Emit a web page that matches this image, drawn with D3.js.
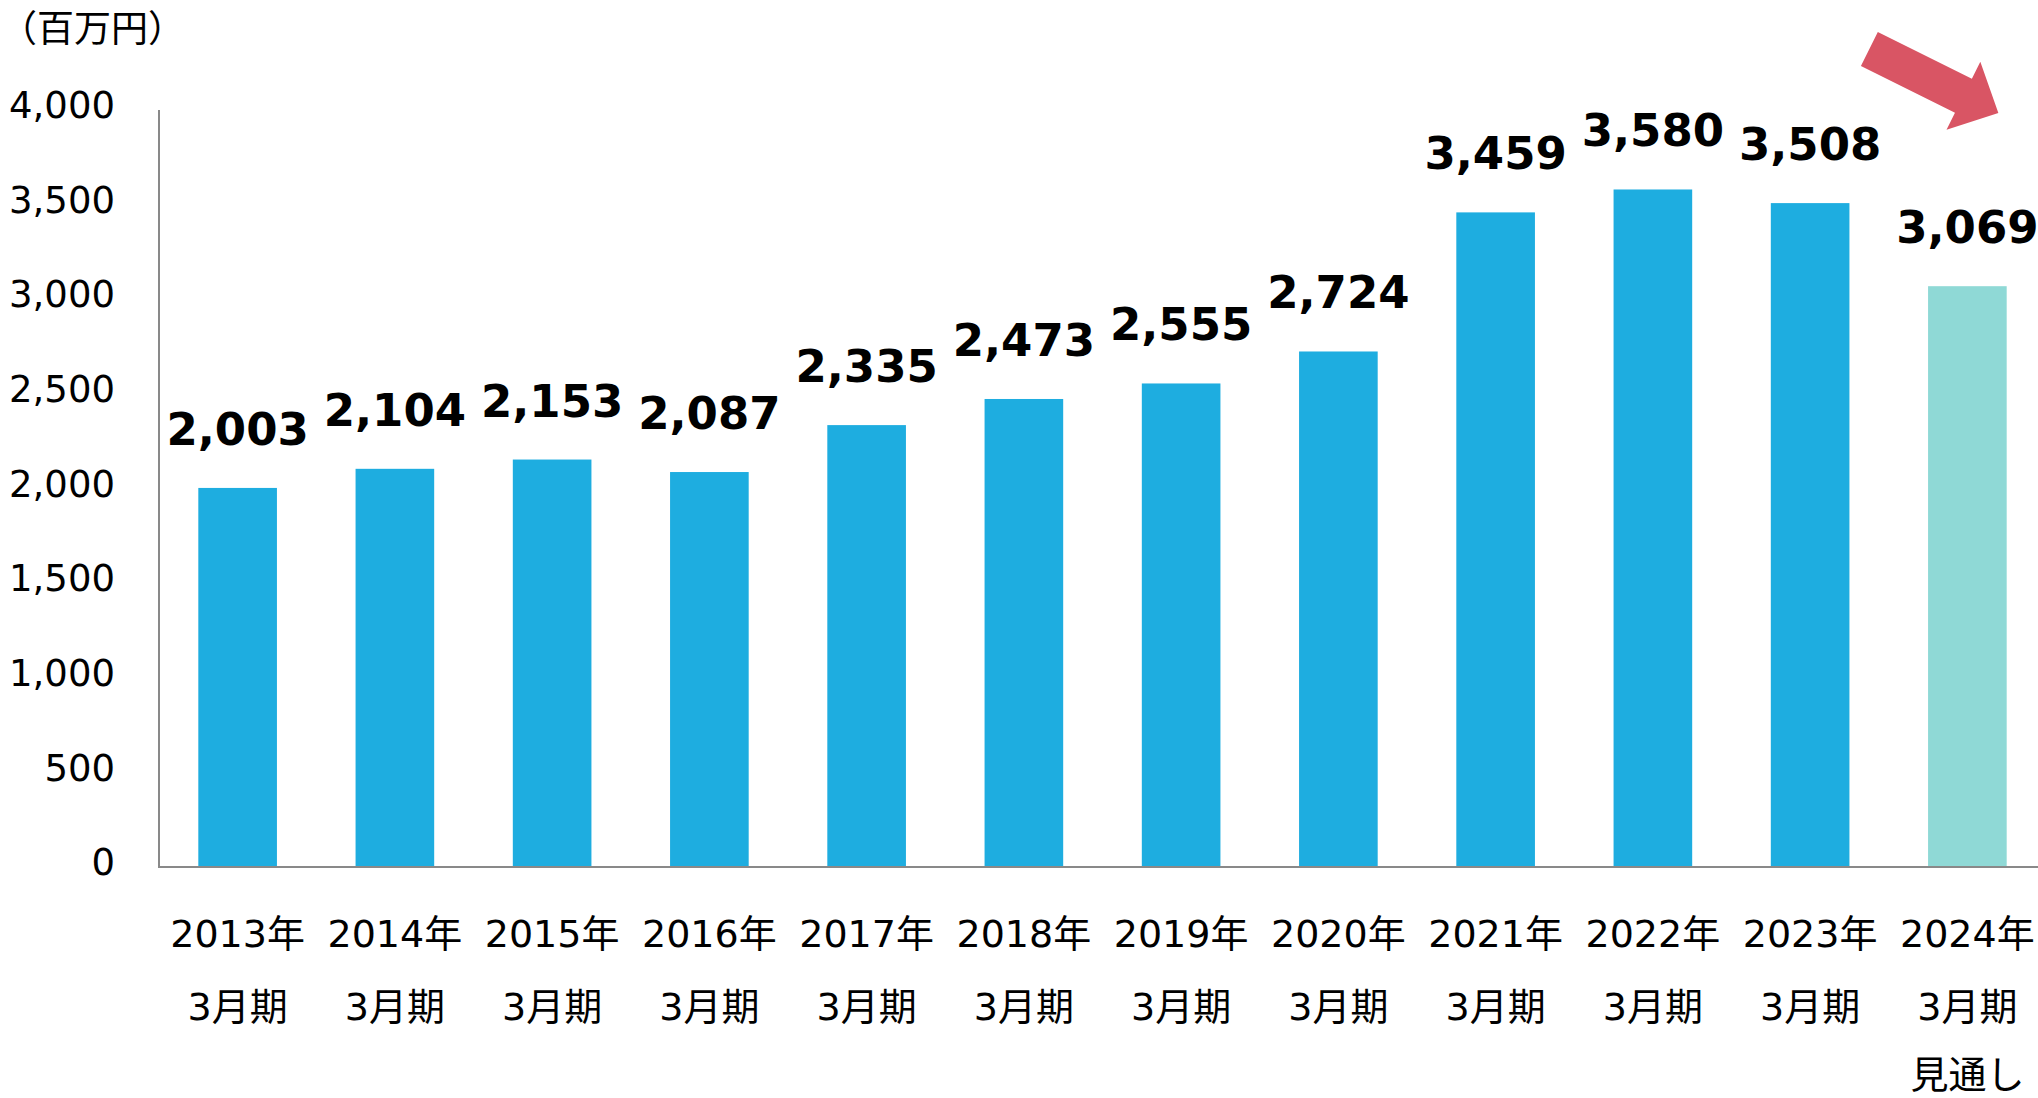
<!DOCTYPE html>
<html>
<head>
<meta charset="utf-8">
<script src="https://cdn.jsdelivr.net/npm/d3@7"></script>
<style>
  html, body { margin: 0; padding: 0; background: #fff; }
  svg { display: block; }
  text { font-family: "DejaVu Sans", "Noto Sans CJK JP", sans-serif; fill: #000; }
</style>
</head>
<body>
<div id="chart"></div>
<script>
// 売上高の推移（百万円）
const years = ['2013年', '2014年', '2015年', '2016年', '2017年', '2018年',
               '2019年', '2020年', '2021年', '2022年', '2023年', '2024年'];
const periodLabel = '3月期';
const forecastNote = '見通し';
const sales = [2003, 2104, 2153, 2087, 2335, 2473, 2555, 2724, 3459, 3580, 3508, 3069];
const isForecast = [false, false, false, false, false, false, false, false, false, false, false, true];
const yTicks = [0, 500, 1000, 1500, 2000, 2500, 3000, 3500, 4000];
const unitLabel = '（百万円）';

const W = 2038, H = 1098;
const m = { t: 110, r: -8, b: 231, l: 159 };

const svg = d3.select('#chart').append('svg').attr('width', W).attr('height', H);

const x = d3.scaleBand().domain(years).range([m.l, W - m.r])
  .paddingInner(0.5).paddingOuter(0.25);
const y = d3.scaleLinear().domain([0, 4000]).range([H - m.b, m.t]);

// 単位
svg.append('text')
  .attr('x', 0).attr('y', 42)
  .style('font-size', '37px')
  .text(unitLabel);

// Y軸の目盛りラベル
svg.selectAll('.ytick').data(yTicks).enter().append('text')
  .attr('class', 'ytick')
  .attr('x', 115)
  .attr('y', d => y(d))
  .attr('dy', '0.22em')
  .attr('text-anchor', 'end')
  .style('font-size', '37px')
  .text(d => d3.format(',')(d));

// 棒
svg.selectAll('rect').data(sales).enter().append('rect')
  .attr('x', (d, i) => x(years[i]))
  .attr('y', d => y(d))
  .attr('width', x.bandwidth())
  .attr('height', d => y(0) - y(d))
  .attr('fill', (d, i) => isForecast[i] ? '#8fd9d6' : '#1eade0');

// 値ラベル
svg.selectAll('.val').data(sales).enter().append('text')
  .attr('class', 'val')
  .attr('x', (d, i) => x(years[i]) + x.bandwidth() / 2)
  .attr('y', d => y(d) - 43)
  .attr('text-anchor', 'middle')
  .style('font-size', '45px')
  .style('font-weight', 'bold')
  .text(d => d3.format(',')(d));

// 軸線
svg.append('line')
  .attr('x1', m.l).attr('x2', m.l)
  .attr('y1', m.t).attr('y2', y(0))
  .attr('stroke', '#898989').attr('stroke-width', 2);
svg.append('line')
  .attr('x1', m.l - 1).attr('x2', W)
  .attr('y1', y(0)).attr('y2', y(0))
  .attr('stroke', '#898989').attr('stroke-width', 2);

// X軸ラベル
const xl = svg.selectAll('.xl').data(years).enter().append('g')
  .attr('class', 'xl')
  .attr('transform', d => `translate(${x(d) + x.bandwidth() / 2},0)`);
xl.append('text').attr('y', 947).attr('text-anchor', 'middle')
  .style('font-size', '38px').text(d => d);
xl.append('text').attr('y', 1020).attr('text-anchor', 'middle')
  .style('font-size', '38px').text(periodLabel);
xl.filter((d, i) => isForecast[i]).append('text')
  .attr('y', 1088).attr('text-anchor', 'middle')
  .style('font-size', '38px').text(forecastNote);

// 減少を示す矢印（最後の棒の上）
const last = years[years.length - 1];
const ax = x(last) + x.bandwidth() / 2;
const arrowLen = 144, shaftW = 38, headW = 76, headL = 39;
const arrow = svg.append('g')
  .attr('transform', `translate(${ax - 98},49) rotate(26.4)`);
arrow.append('path')
  .attr('d', d3.line()([
    [0, -shaftW / 2], [arrowLen - headL, -shaftW / 2], [arrowLen - headL, -headW / 2],
    [arrowLen, 0], [arrowLen - headL, headW / 2], [arrowLen - headL, shaftW / 2], [0, shaftW / 2]
  ]) + 'Z')
  .attr('fill', '#d95564');
</script>
</body>
</html>
